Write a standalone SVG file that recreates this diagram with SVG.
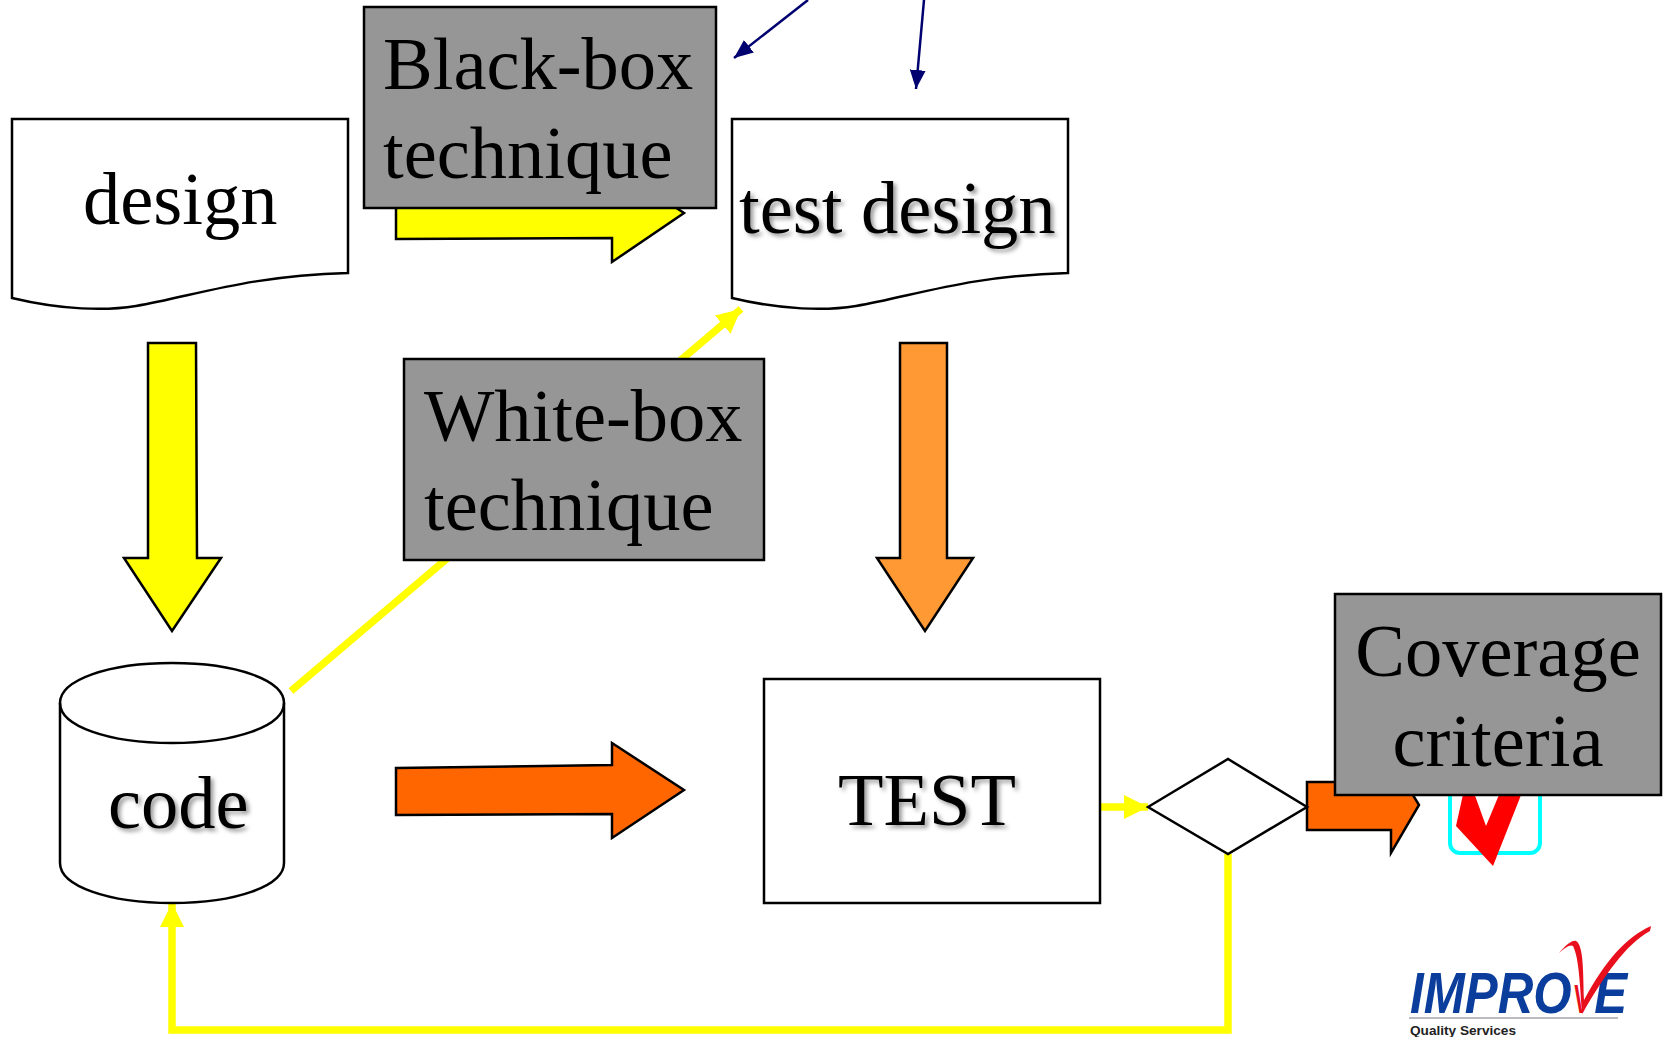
<svg xmlns="http://www.w3.org/2000/svg" width="1667" height="1037" viewBox="0 0 1667 1037">
<defs>
<filter id="sh" x="-10%" y="-20%" width="125%" height="150%"><feDropShadow dx="3" dy="3" stdDeviation="2" flood-color="#000" flood-opacity="0.4"/></filter>
<marker id="ya" markerUnits="userSpaceOnUse" markerWidth="26" markerHeight="26" refX="24" refY="13" orient="auto"><path d="M0 1L24 13L0 25z" fill="#ff0"/></marker>
<marker id="ba" markerUnits="userSpaceOnUse" markerWidth="20" markerHeight="16" refX="19" refY="8" orient="auto"><path d="M0 0L19 8L0 16z" fill="#000070"/></marker>
</defs>
<style>
text{font-family:"Liberation Serif","Times New Roman",serif;fill:#000}
.t{font-size:74.5px}
.s{filter:url(#sh)}
.m{text-anchor:middle}
.o{stroke:#000;stroke-width:2.5;stroke-linejoin:miter;fill:#fff}
.g{fill:#969696}
.ye{fill:#ff0}.or{fill:#f60}.lo{fill:#f93}
.yl{fill:none;stroke:#ff0;stroke-width:7.5}
.bl{fill:none;stroke:#000070;stroke-width:2.5;marker-end:url(#ba)}
.logo{font-family:"Liberation Sans",Arial,sans-serif;font-weight:bold}
</style>
<rect width="1667" height="1037" fill="#fff"/>

<g id="connectors">
<path class="yl" d="M291 691L741 309" marker-end="url(#ya)"/>
<path class="yl" d="M1100 807H1148" marker-end="url(#ya)"/>
<path class="yl" d="M1228 854V1030H172V903" marker-end="url(#ya)"/>
<path class="bl" d="M808 0L734 58"/>
<path class="bl" d="M924 0L916 89"/>
</g>

<g id="arrow-design-code"><path class="o ye" d="M148 343H196L197 558H221L172 631L124 558H148z"/></g>
<g id="arrow-testdesign-test"><path class="o lo" d="M900 343H947V558H973L925 631L877 558H900z"/></g>
<g id="arrow-code-test"><path class="o or" d="M396 768L612 765V743L684 790L612 838V814L396 815z"/></g>
<g id="arrow-design-testdesign"><path class="o ye" d="M396 191L612 188V166L684 213L612 262V238L396 239z"/></g>
<g id="arrow-exit"><path class="o or" d="M1307 782H1390V757L1419 805L1391 853V830H1307z"/></g>

<g id="checkmark">
<rect x="1450" y="760" width="90" height="93" rx="10" fill="#fff" stroke="#0ff" stroke-width="4"/>
<path d="M1464 790L1456 826L1493 866L1523 790H1501L1486 826L1473 790z" fill="#f00"/>
</g>

<g id="design">
<path class="o" d="M12 119H348V273C245 276 195 296 136 306C106 311 62 310 12 298z"/>
<text class="t" x="83" y="224">design</text>
</g>
<g id="test-design">
<path class="o" d="M732 119H1068V273C965 276 915 296 856 306C826 311 782 310 732 298z"/>
<text class="t s" x="739" y="233">test design</text>
</g>
<g id="code">
<path class="o" d="M60 703C60 680 108 663 172 663C236 663 284 680 284 703V863C284 886 236 903 172 903C108 903 60 886 60 863z"/>
<path class="o" style="fill:none" d="M60 703C60 726 108 743 172 743C236 743 284 726 284 703"/>
<text class="t s" x="108" y="828">code</text>
</g>
<g id="test">
<rect class="o" x="764" y="679" width="336" height="224"/>
<text class="t s" x="838" y="825">TEST</text>
</g>
<g id="decision"><path class="o" d="M1148 807L1228 759L1307 807L1228 854z"/></g>

<g id="black-box">
<rect class="o g" x="364" y="7" width="352" height="201"/>
<text class="t" x="383" y="89">Black-box</text>
<text class="t" x="383" y="178">technique</text>
</g>
<g id="white-box">
<rect class="o g" x="404" y="359" width="360" height="201"/>
<text class="t" x="424" y="441">White-box</text>
<text class="t" x="424" y="530">technique</text>
</g>
<g id="coverage">
<rect class="o g" x="1335" y="594" width="326" height="201"/>
<text class="t m" x="1498" y="676">Coverage</text>
<text class="t m" x="1498" y="766">criteria</text>
</g>

<g id="logo">
<text class="logo" transform="translate(1410 1013) scale(.85 1)" x="0" y="0" font-size="58" font-style="italic" style="fill:#0a3d9c;font-family:'Liberation Sans',Arial,sans-serif">IMPRO<tspan font-size="40" font-weight="normal" style="fill:#e8101c">V</tspan>E</text>
<path d="M1559 953C1566 945 1572 940 1576 941C1584 945 1583 975 1584 1000C1606 960 1625 938 1651 926L1650 931C1625 945 1605 975 1582 1014C1580 985 1579 958 1573 946C1570 944 1565 948 1559 953z" fill="#e8101c"/>
<path d="M1409 1018H1618" stroke="#778" stroke-width="1.2"/>
<text class="logo" x="1410" y="1035" font-size="13.5" style="fill:#222" textLength="106" lengthAdjust="spacingAndGlyphs">Quality Services</text>
</g>
</svg>
